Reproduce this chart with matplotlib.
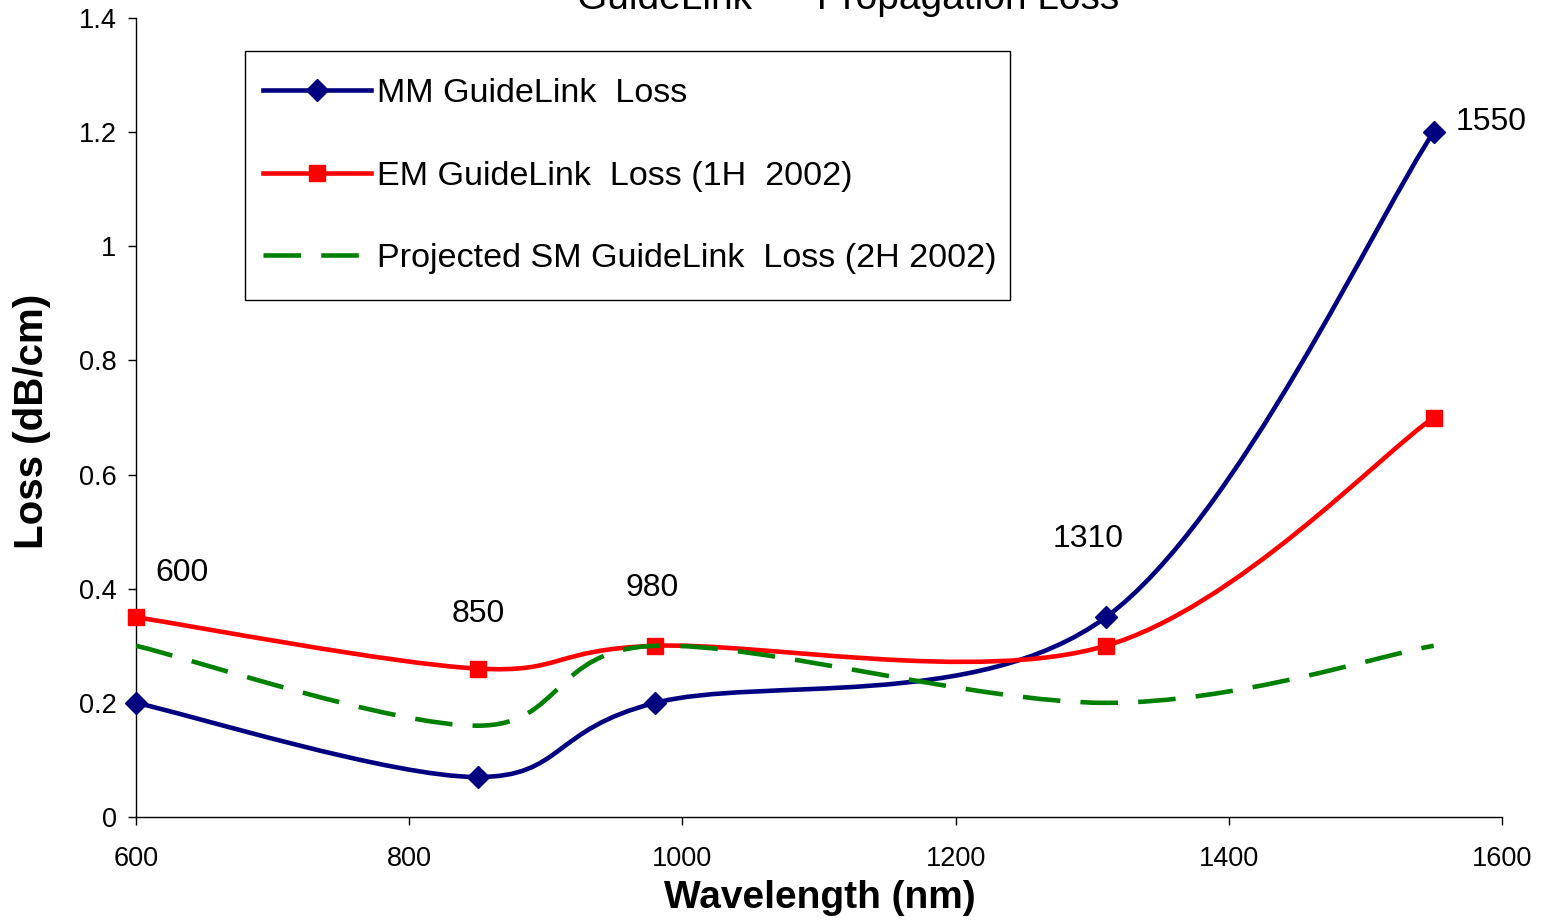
import matplotlib
matplotlib.use("Agg")
import matplotlib.pyplot as plt
from matplotlib.path import Path
from matplotlib.patches import PathPatch, Rectangle
from matplotlib.lines import Line2D
from matplotlib.ticker import FuncFormatter, MultipleLocator

plt.rcParams['font.family'] = ['Liberation Sans', 'DejaVu Sans']

# ---- data ----
wavelength = [600, 850, 980, 1310, 1550]
mm_loss = [0.20, 0.07, 0.20, 0.35, 1.20]
em_loss = [0.35, 0.26, 0.30, 0.30, 0.70]
sm_loss = [0.30, 0.16, 0.30, 0.20, 0.30]
series_names = ["MM GuideLink  Loss",
                "EM GuideLink  Loss (1H  2002)",
                "Projected SM GuideLink  Loss (2H 2002)"]
point_labels = ["600", "850", "980", "1310", "1550"]
title = "GuideLink  \u2013  Propagation Loss"


def smooth_path(xs, ys):
    """Excel-style smoothed line as cubic Bezier path through the data points."""
    pts = list(zip(xs, ys))
    n = len(pts)
    verts = [pts[0]]
    codes = [Path.MOVETO]
    for i in range(n - 1):
        p0 = pts[max(i - 1, 0)]
        p1 = pts[i]
        p2 = pts[i + 1]
        p3 = pts[min(i + 2, n - 1)]
        c1 = (p1[0] + (p2[0] - p0[0]) / 6.0, p1[1] + (p2[1] - p0[1]) / 6.0)
        c2 = (p2[0] - (p3[0] - p1[0]) / 6.0, p2[1] - (p3[1] - p1[1]) / 6.0)
        verts += [c1, c2, p2]
        codes += [Path.CURVE4] * 3
    return Path(verts, codes)


W, H = 1545, 922
fig = plt.figure(figsize=(W / 100, H / 100), dpi=100)
ax = fig.add_axes([136 / W, (H - 817) / H, 1366 / W, 799 / H])

navy = "#000080"
red = "#FF0000"
green = "#008000"
lw = 3.3
green_dash = (8.2, 4.4)

ax.add_patch(PathPatch(smooth_path(wavelength, mm_loss), facecolor='none',
                       edgecolor=navy, lw=lw, zorder=3, joinstyle='round'))
ax.plot(wavelength, mm_loss, ls='none', marker='D', ms=11, color=navy,
        mec=navy, zorder=4, clip_on=False)
ax.add_patch(PathPatch(smooth_path(wavelength, em_loss), facecolor='none',
                       edgecolor=red, lw=lw, zorder=5, joinstyle='round'))
ax.plot(wavelength, em_loss, ls='none', marker='s', ms=11, color=red,
        mec=red, zorder=6, clip_on=False)
sm_patch = PathPatch(smooth_path(wavelength, sm_loss), facecolor='none',
                     edgecolor=green, lw=lw, zorder=7)
sm_patch.set_linestyle((0, green_dash))
ax.add_patch(sm_patch)

ax.set_xlim(600, 1600)
ax.set_ylim(0, 1.4)
ax.xaxis.set_major_locator(MultipleLocator(200))
ax.yaxis.set_major_locator(MultipleLocator(0.2))
ax.yaxis.set_major_formatter(FuncFormatter(lambda v, p: f"{v:g}"))

for s in ['top', 'right']:
    ax.spines[s].set_visible(False)
for s in ['left', 'bottom']:
    ax.spines[s].set_linewidth(1.0)
    ax.spines[s].set_color('black')

ax.tick_params(axis='x', direction='out', length=6, width=1, labelsize=19.5, pad=15)
ax.tick_params(axis='y', direction='out', length=6, width=1, labelsize=19.5, pad=8)

ax.set_xlabel("Wavelength (nm)", fontsize=28, fontweight='bold')
ax.set_ylabel("Loss (dB/cm)", fontsize=29, fontweight='bold')
ax.xaxis.set_label_coords(0.5007, -0.101)
ax.yaxis.set_label_coords(-0.076, 0.4956)
ax.xaxis.label.set_va('center')
ax.yaxis.label.set_va('center')

# point labels (layout positions in data coords)
label_pos = [(614, 0.428), (831, 0.356), (958, 0.401), (1271, 0.487), (1566, 1.218)]
for txt, (lx, ly) in zip(point_labels, label_pos):
    ax.text(lx, ly, txt, fontsize=23, ha='left', va='center', clip_on=False)

# legend frame drawn separately so the inner spacing matches
ax.add_patch(Rectangle((0.0798, 0.647), 0.560, 0.3116, transform=ax.transAxes,
                       facecolor='white', edgecolor='black', lw=1.0, zorder=9))
handles = [
    Line2D([], [], color=navy, lw=lw, marker='D', ms=11),
    Line2D([], [], color=red, lw=lw, marker='s', ms=11),
    Line2D([], [], color=green, lw=lw, dashes=green_dash),
]
leg = ax.legend(handles, series_names, loc='upper left',
                bbox_to_anchor=(0.093, 0.9249), fontsize=24.6,
                handlelength=3.15, handletextpad=0.18, labelspacing=1.51,
                borderpad=0, borderaxespad=0, frameon=False)
leg.set_zorder(10)

fig.text(0.549, 1 - 9 / H, title, fontsize=28, ha='center', va='baseline')

fig.savefig("out.png", dpi=100)
